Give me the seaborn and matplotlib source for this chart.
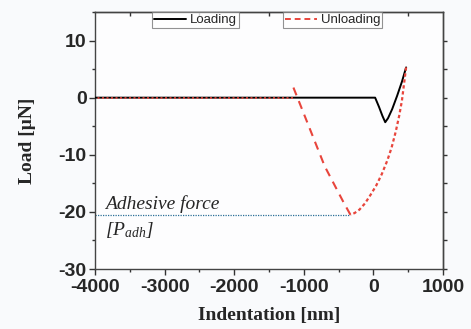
import numpy as np
import pandas as pd
import matplotlib
matplotlib.use('Agg')
import matplotlib.pyplot as plt
import seaborn as sns
from matplotlib.ticker import MultipleLocator

# loading curve (nm, uN)
load_x = [-4000, -3000, -2000, -1000, 0, 25, 80, 130, 170, 210, 270, 340, 410, 470]
load_y = [0, 0, 0, 0, 0, 0, -1.6, -3.2, -4.3, -3.6, -2.0, 0.3, 2.8, 5.3]

# unloading: right branch down to the adhesion minimum
unl_right_x = [470, 440, 410, 370, 320, 260, 200, 120, 40, -40, -120, -200, -270, -330]
unl_right_y = [5.3, 2.4, -0.5, -3.2, -6.0, -8.8, -11.0, -13.4, -15.4, -17.0, -18.5, -19.6, -20.2, -20.5]
# unloading: left branch up to snap-off
unl_left_x = [-330, -430, -550, -700, -850, -1000, -1150]
unl_left_y = [-20.5, -18.3, -15.5, -12.0, -7.4, -2.8, 1.8]
# unloading: baseline after snap-off
unl_base_x = [-1150, -2000, -3000, -4000]
unl_base_y = [0, 0, 0, 0]

p_adh = -20.5
p_adh_x = -330

sns.set_style('ticks')
plt.rcParams['font.family'] = ['Liberation Sans', 'DejaVu Sans']
plt.rcParams['axes.unicode_minus'] = False
plt.rcParams['mathtext.fontset'] = 'custom'
plt.rcParams['mathtext.it'] = 'Liberation Serif:italic'
plt.rcParams['mathtext.rm'] = 'Liberation Serif:italic'

fig = plt.figure(figsize=(4.71, 3.29), dpi=100, facecolor='#f9fafc')
ax = fig.add_axes([95/471, 1-269/329, 348/471, 257/329])
ax.set_facecolor('#fdfdfe')

red = '#e8453c'
sns.lineplot(x=load_x, y=load_y, ax=ax, color='black', lw=1.4, sort=False, zorder=3)
sns.lineplot(x=unl_base_x, y=unl_base_y, ax=ax, color=red, lw=1.2, sort=False,
             linestyle=(0, (1.2, 1.5)), zorder=4)
sns.lineplot(x=unl_left_x, y=unl_left_y, ax=ax, color=red, lw=1.5, sort=False,
             linestyle=(0, (4, 3)), zorder=4)
sns.lineplot(x=unl_right_x, y=unl_right_y, ax=ax, color=red, lw=1.6, sort=False,
             linestyle=(0, (1.5, 1.2)), zorder=4)

# adhesive force marker
ax.plot([-4000, p_adh_x], [p_adh, p_adh], color='#2a6f97', lw=0.9, linestyle=(0, (1, 1)), zorder=1)
ax.text(-3860, -18.6, 'Adhesive force', family='Liberation Serif', style='italic',
        fontsize=14, va='center', ha='left')
ax.text(-3860, -23.2, r'$[P_{adh}]$', fontsize=14, va='center', ha='left')

ax.set_xlim(-4000, 1000)
ax.set_ylim(-30, 15)
ax.xaxis.set_major_locator(MultipleLocator(1000))
ax.xaxis.set_minor_locator(MultipleLocator(500))
ax.yaxis.set_major_locator(MultipleLocator(10))
ax.yaxis.set_minor_locator(MultipleLocator(5))
ax.tick_params(axis='both', which='major', direction='out', length=4, width=1,
               labelsize=14, color='#333333')
ax.tick_params(axis='both', which='minor', direction='out', length=2.5, width=1, color='#333333')
for lab in ax.get_xticklabels() + ax.get_yticklabels():
    lab.set_fontweight('bold')
ax.tick_params(axis='x', which='major', pad=3)
ax.tick_params(axis='y', which='major', pad=2)

# top ticks inward, right ticks outward
top = ax.secondary_xaxis('top')
top.set_xticks([-3500, -2500, -1500, -500, 500])
top.tick_params(direction='in', length=3, width=1, labeltop=False, color='#333333')
right = ax.secondary_yaxis('right')
right.set_yticks([-30, -25, -20, -15, -10, -5, 0, 5, 10])
right.tick_params(direction='out', length=3, width=1, labelright=False, color='#333333')
for sp in list(ax.spines.values()) + [top.spines['top'], right.spines['right']]:
    sp.set_color('#444444')
    sp.set_linewidth(1)

ax.set_xlabel('Indentation [nm]', family='Liberation Serif', fontweight='bold', fontsize=14, labelpad=8)
ax.set_ylabel('Load [\u03bcN]', family='Liberation Serif', fontweight='bold', fontsize=14, labelpad=16)

# two separate legend boxes
h_load = plt.Line2D([], [], color='black', lw=1.4)
h_unl = plt.Line2D([], [], color=red, lw=1.4, linestyle=(0, (3, 2)))
leg1 = ax.legend([h_load], ['Loading'], loc='upper left', bbox_to_anchor=(0.164, 1.0),
                 fontsize=9.5, frameon=True, fancybox=False, handlelength=2.4,
                 handletextpad=0.3, borderpad=0.15, borderaxespad=0)
leg1.get_frame().set_edgecolor('#777777')
leg1.get_frame().set_linewidth(0.8)
ax.add_artist(leg1)
leg2 = ax.legend([h_unl], ['Unloading'], loc='upper left', bbox_to_anchor=(0.54, 1.0),
                 fontsize=9.5, frameon=True, fancybox=False, handlelength=2.4,
                 handletextpad=0.3, borderpad=0.15, borderaxespad=0)
leg2.get_frame().set_edgecolor('#777777')
leg2.get_frame().set_linewidth(0.8)

fig.savefig('out.png', dpi=100, facecolor=fig.get_facecolor())
